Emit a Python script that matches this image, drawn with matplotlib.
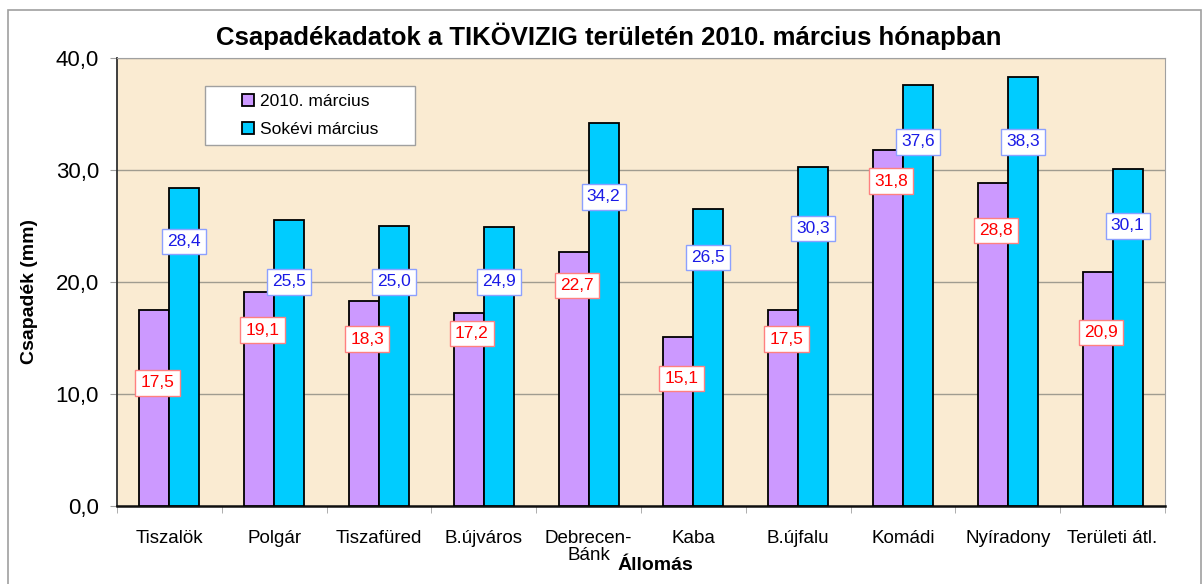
import matplotlib
matplotlib.use("Agg")
from matplotlib import pyplot as plt
from matplotlib.patches import Rectangle
import numpy as np

plt.rcParams['font.family'] = ['Liberation Sans', 'DejaVu Sans']

stations = ['Tiszalök', 'Polgár', 'Tiszafüred', 'B.újváros', 'Debrecen-\nBánk',
            'Kaba', 'B.újfalu', 'Komádi', 'Nyíradony', 'Területi átl.']
march_2010 = [17.5, 19.1, 18.3, 17.2, 22.7, 15.1, 17.5, 31.8, 28.8, 20.9]
march_longterm = [28.4, 25.5, 25.0, 24.9, 34.2, 26.5, 30.3, 37.6, 38.3, 30.1]

# where the value boxes sit (y in data units), as placed in the original
label_y_2010 = [11.0, 15.7, 14.9, 15.4, 19.7, 11.4, 14.9, 29.0, 24.6, 15.5]
label_y_longterm = [23.6, 20.0, 20.0, 20.0, 27.6, 22.2, 24.8, 32.5, 32.5, 25.0]

purple = '#CC99FF'
cyan = '#00CCFF'

fig = plt.figure(figsize=(12.03, 5.84), dpi=100)
fig.patches.append(Rectangle((8 / 1203, -0.1), 1193 / 1203, 1.1 - 10 / 584,
                             transform=fig.transFigure, fill=False,
                             edgecolor='#A0A0A0', linewidth=1.2))

ax = fig.add_axes([117 / 1203, 78 / 584, 1048 / 1203, 448 / 584])
ax.set_facecolor('#FAEBD2')

x = np.arange(len(stations))
w = 0.286
ax.bar(x - w / 2, march_2010, w, color=purple, edgecolor='black', linewidth=1.3,
       label='2010. március', zorder=3)
ax.bar(x + w / 2, march_longterm, w, color=cyan, edgecolor='black', linewidth=1.3,
       label='Sokévi március', zorder=3)

for i in range(len(stations)):
    ax.text(x[i] - w / 2 + 0.03, label_y_2010[i], f'{march_2010[i]:.1f}'.replace('.', ','),
            ha='center', va='center', color='#FF0000', fontsize=12.5, zorder=5,
            bbox=dict(boxstyle='square,pad=0.3', fc='white', ec='#FF8080', lw=1))
    ax.text(x[i] + w / 2, label_y_longterm[i], f'{march_longterm[i]:.1f}'.replace('.', ','),
            ha='center', va='center', color='#1A1AE6', fontsize=12.5, zorder=5,
            bbox=dict(boxstyle='square,pad=0.3', fc='white', ec='#8CA0FF', lw=1))

ax.set_xlim(-0.5, len(stations) - 0.5)
ax.set_ylim(0, 40)
ax.set_yticks([0, 10, 20, 30, 40])
ax.set_yticklabels(['0,0', '10,0', '20,0', '30,0', '40,0'], fontsize=16)
ax.yaxis.grid(True, color='#A09C90', linewidth=1, zorder=1)
ax.set_axisbelow(True)

ax.set_xticks(x)
ax.set_xticklabels(stations, fontsize=13.5, linespacing=1.05)
ax.set_xticks(np.arange(len(stations) + 1) - 0.5, minor=True)
ax.tick_params(axis='x', which='major', length=0, pad=17)
ax.tick_params(axis='x', which='minor', length=5, color='#A0A0A0', direction='out')
ax.tick_params(axis='y', length=5, color='#A0A0A0', direction='out', pad=8)

ax.spines['left'].set_color('#303030')
ax.spines['left'].set_linewidth(1.3)
ax.spines['bottom'].set_color('#101010')
ax.spines['bottom'].set_linewidth(1.8)
ax.spines['top'].set_color('#A0A0A0')
ax.spines['right'].set_color('#A0A0A0')

leg = ax.legend(loc='upper left', bbox_to_anchor=(0.084, 0.9375), fontsize=12.5,
                frameon=True, fancybox=False, edgecolor='#A0A0A0',
                handlelength=0.7, handleheight=0.7, handletextpad=0.3,
                borderpad=0.45, labelspacing=0.75, borderaxespad=0)
leg.get_frame().set_linewidth(1)
leg.get_frame().set_facecolor('white')
leg.get_frame().set_alpha(1)
leg.set_zorder(6)
# stretch the legend box to the width used in the original
leg._legend_box.set_width(210 - 2 * 0.45 * 12.5 * 100 / 72)

fig.text(609 / 1203, 1 - 36 / 584,
         'Csapadékadatok a TIKÖVIZIG területén 2010. március hónapban',
         ha='center', va='center', fontsize=18.5, weight='bold')
fig.text(30 / 1203, 1 - 291 / 584, 'Csapadék (mm)', rotation=90,
         ha='center', va='center', fontsize=14, weight='bold')
fig.text(655 / 1203, 1 - 565 / 584, 'Állomás',
         ha='center', va='center', fontsize=14, weight='bold')

fig.savefig('out.png', dpi=100)
